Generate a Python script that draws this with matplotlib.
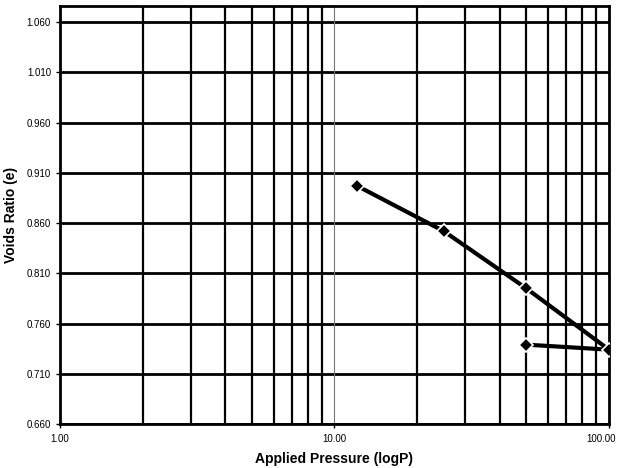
import numpy as np
import matplotlib
matplotlib.use("Agg")
import matplotlib.pyplot as plt
import matplotlib.transforms as mtransforms
from matplotlib.ticker import FixedLocator, NullFormatter

# applied pressure and voids ratio
pressure = [12.1, 25.0, 50.0, 100.0, 50.0]
voids = [0.897, 0.852, 0.795, 0.734, 0.739]

y_ticks = [0.660, 0.710, 0.760, 0.810, 0.860, 0.910, 0.960, 1.010, 1.060]
x_ticks = [1.0, 10.0, 100.0]

plt.rcParams['font.family'] = ['Liberation Sans', 'DejaVu Sans']

fig = plt.figure(figsize=(6.21, 4.68), dpi=100)
ax = fig.add_axes([0.0966, 0.094, 0.884, 0.893])

ax.set_xscale('log')
ax.set_xlim(1, 100)
ax.set_ylim(0.660, 1.076)

# grid: horizontal majors, vertical minors in each decade
for yv in y_ticks:
    ax.axhline(yv, color='black', lw=2, zorder=1)
minors = [m * d for d in (1, 10) for m in range(2, 10)]
for xv in minors:
    ax.axvline(xv, color='black', lw=1.6, zorder=1)
ax.axvline(10, color='#777777', lw=0.8, zorder=1)

ax.plot(pressure, voids, color='black', lw=3, zorder=3,
        marker='D', markersize=7, markerfacecolor='black',
        markeredgecolor='white', markeredgewidth=1.2)

ax.xaxis.set_major_locator(FixedLocator(x_ticks))
ax.xaxis.set_minor_formatter(NullFormatter())
ax.xaxis.set_minor_locator(FixedLocator([]))
ax.set_xticklabels(['%.2f' % v for v in x_ticks])
ax.set_yticks(y_ticks)
ax.set_yticklabels(['%.3f' % v for v in y_ticks])
ax.tick_params(axis='both', labelsize=7, length=3, width=1, direction='out')
ax.tick_params(axis='x', pad=4)

# keep the last x label inside the figure
last = ax.get_xticklabels()[-1]
last.set_transform(last.get_transform() +
                   mtransforms.ScaledTranslation(-6 / 72, 0, fig.dpi_scale_trans))

for s in ax.spines.values():
    s.set_linewidth(2)
    s.set_color('black')

ax.set_xlabel('Applied Pressure (logP)', fontsize=10, fontweight='bold', labelpad=6)
ax.set_ylabel('Voids Ratio (e)', fontsize=10, fontweight='bold', labelpad=6)

fig.savefig('out.png', dpi=100)
